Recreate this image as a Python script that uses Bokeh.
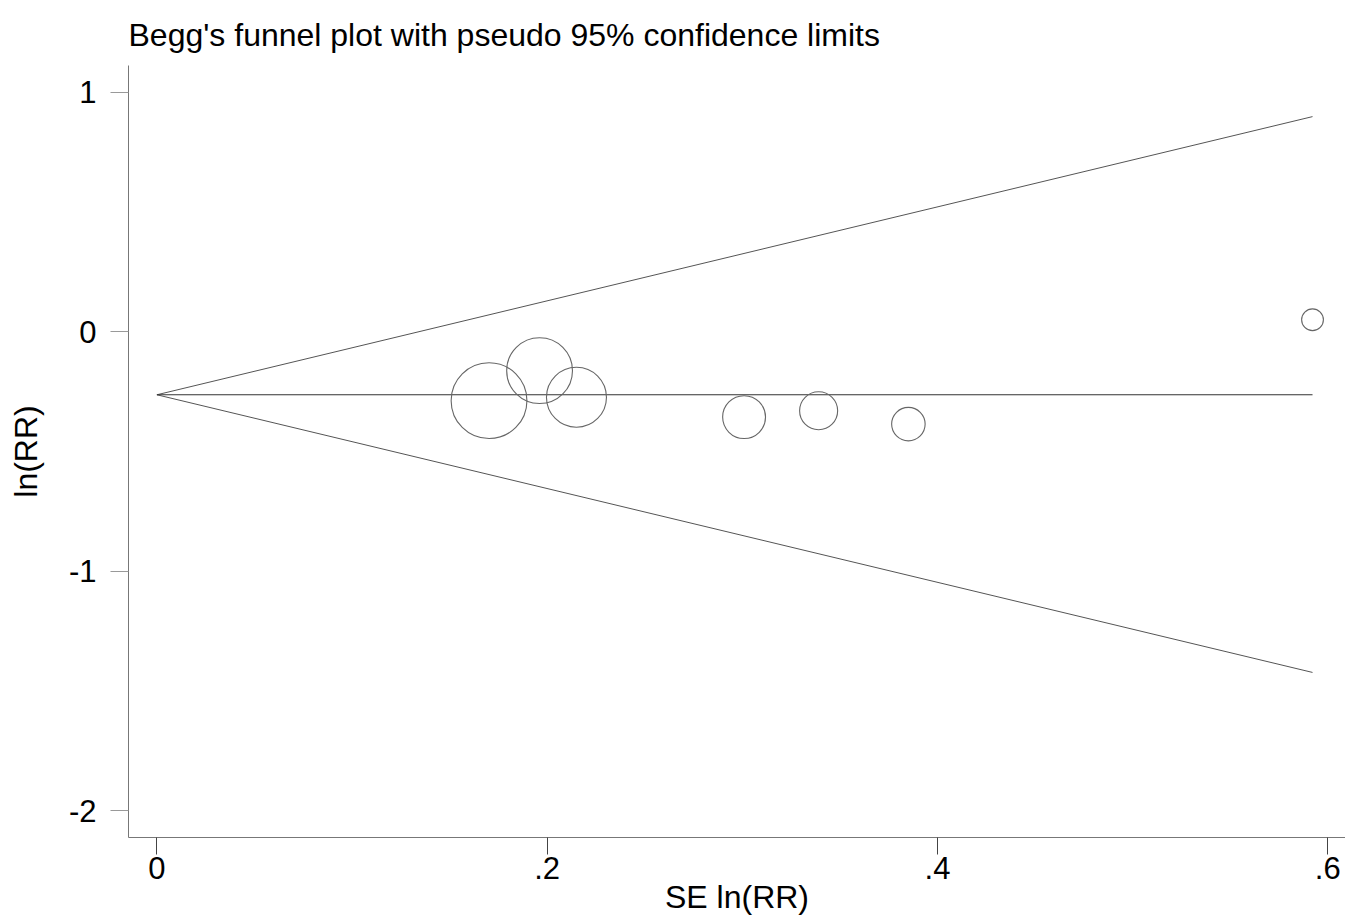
from bokeh.plotting import figure
from bokeh.models import Range1d, FixedTicker
from bokeh.embed import file_html
from bokeh.resources import INLINE

# Study estimates
se = [0.1702, 0.1961, 0.2150, 0.3009, 0.3391, 0.3851, 0.5922]
ln_rr = [-0.2875, -0.1623, -0.2733, -0.3563, -0.3296, -0.3855, 0.0501]

# Pooled estimate and pseudo 95% limits
pooled = -0.263
ci_se = [0.0, 0.5922]
ci_upper = [-0.263, 0.898]
ci_lower = [-0.263, -1.422]

x_ticks = [0, 0.2, 0.4, 0.6]
x_tick_labels = ["0", ".2", ".4", ".6"]
y_ticks = [1, 0, -1, -2]
y_tick_labels = ["1", "0", "-1", "-2"]

FONT = "Liberation Sans"

p = figure(width=1345, height=922, output_backend="svg", toolbar_location=None,
           x_range=Range1d(-0.01456, 0.6091), y_range=Range1d(-2.111, 1.1114),
           min_border_left=128, min_border_right=0, min_border_top=65, min_border_bottom=85)

p.title.text = "Begg's funnel plot with pseudo 95% confidence limits"
p.title.text_font = FONT
p.title.text_font_size = "32px"
p.title.text_font_style = "normal"
p.title.text_color = "black"
p.title.align = "left"
p.title.standoff = 26

p.outline_line_color = None
p.xgrid.visible = False
p.ygrid.visible = False
p.background_fill_color = "white"
p.border_fill_color = "white"

# funnel lines
p.line(ci_se, ci_upper, line_color="#555555", line_width=1)
p.line(ci_se, ci_lower, line_color="#555555", line_width=1)
p.line([ci_se[0], ci_se[1]], [pooled, pooled], line_color="#333333", line_width=1.2)

# studies: marker size inversely proportional to SE (weights)
sizes = [12.9 / s for s in se]
p.scatter(se, ln_rr, size=sizes, marker="circle", fill_color=None,
          line_color="#666666", line_width=1.1)

# x axis
xa = p.xaxis[0]
xa.ticker = FixedTicker(ticks=x_ticks)
xa.major_label_overrides = {t: l for t, l in zip(x_ticks, x_tick_labels)}
xa.axis_label = "SE ln(RR)"
xa.axis_label_text_font = FONT
xa.axis_label_text_font_size = "32px"
xa.axis_label_text_font_style = "normal"
xa.axis_label_text_color = "black"
xa.axis_label_standoff = -3
xa.major_label_text_font = FONT
xa.major_label_text_font_size = "31px"
xa.major_label_text_color = "black"
xa.major_label_standoff = 2
xa.major_tick_out = 17
xa.major_tick_in = 0
xa.minor_tick_out = 0
xa.minor_tick_in = 0
xa.axis_line_color = "#777777"
xa.major_tick_line_color = "#444444"

# y axis
ya = p.yaxis[0]
ya.ticker = FixedTicker(ticks=y_ticks)
ya.major_label_overrides = {t: l for t, l in zip(y_ticks, y_tick_labels)}
ya.axis_label = "ln(RR)"
ya.axis_label_text_font = FONT
ya.axis_label_text_font_size = "32px"
ya.axis_label_text_font_style = "normal"
ya.axis_label_text_color = "black"
ya.axis_label_standoff = 22
ya.major_label_text_font = FONT
ya.major_label_text_font_size = "31px"
ya.major_label_text_color = "black"
ya.major_label_standoff = 14
ya.major_label_orientation = "horizontal"
ya.major_tick_out = 18
ya.major_tick_in = 0
ya.minor_tick_out = 0
ya.minor_tick_in = 0
ya.axis_line_color = "#777777"
ya.major_tick_line_color = "#999999"

open("out.html", "w").write(file_html(p, INLINE))
